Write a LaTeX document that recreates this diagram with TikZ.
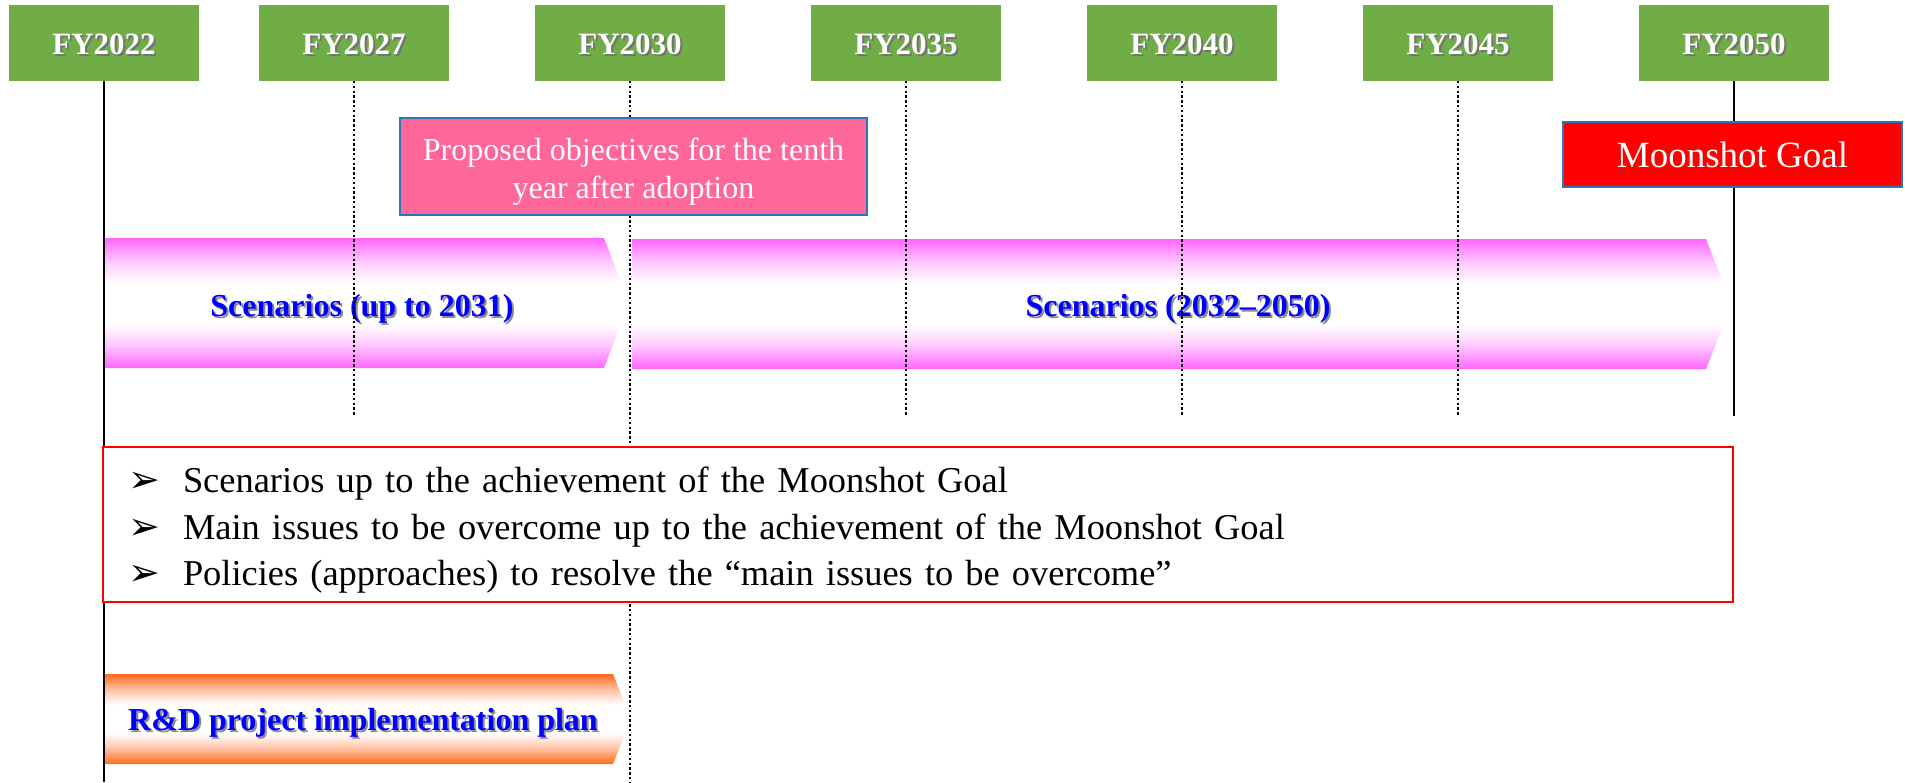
\documentclass[tikz,border=0pt]{standalone}
\usepackage{fontspec}
\setmainfont{Liberation Serif}
\newfontfamily\dingfont{DejaVu Sans}
\usetikzlibrary{positioning}

\definecolor{yeargreen}{HTML}{70AD47}
\definecolor{notepink}{HTML}{FF6699}
\definecolor{edgeblue}{HTML}{2E75B6}
\definecolor{scenmag}{HTML}{FF66FF}
\definecolor{scenlight}{HTML}{FFC8FF}
\definecolor{planorange}{HTML}{FF6A1C}
\definecolor{planlight}{HTML}{FFC4A8}
\definecolor{textblue}{HTML}{0000FF}

\pgfdeclareverticalshading{scenfill}{100bp}{color(0bp)=(scenmag); color(25bp)=(scenmag); color(34bp)=(scenlight); color(42bp)=(white); color(58bp)=(white); color(66bp)=(scenlight); color(75bp)=(scenmag); color(100bp)=(scenmag)}
\pgfdeclareverticalshading{planfill}{100bp}{color(0bp)=(planorange); color(25bp)=(planorange); color(34bp)=(planlight); color(42bp)=(white); color(58bp)=(white); color(66bp)=(planlight); color(75bp)=(planorange); color(100bp)=(planorange)}

\newcommand{\shadowed}[2]{\makebox[0pt][l]{\hspace{1pt}\raisebox{-1pt}{\textcolor{#1}{#2}}}#2}
\newcommand{\itemmark}{\makebox[27.5pt][l]{\dingfont\fontsize{19}{19}\selectfont ➢}}

\begin{document}
\begin{tikzpicture}[x=0.5pt,y=-0.5pt,node distance=43pt,
  yearbox/.style={fill=yeargreen,minimum width=95pt,minimum height=38pt,inner sep=0pt,outer sep=0pt,text height=12.5pt,text=white,font=\fontsize{15.5}{18}\selectfont\bfseries},
  bandtext/.style={text=textblue,inner sep=0pt,font=\fontsize{16}{19}\selectfont\bfseries},
  solidline/.style={draw=black,line width=1.3pt},
  dotline/.style={draw=black,line width=1.3pt,dash pattern=on 1.2pt off 1.2pt},
  notebox/.style={fill=notepink,draw=edgeblue,line width=1pt,minimum width=233.5pt,minimum height=48.5pt,align=center,text=white,font=\fontsize{16}{19}\selectfont},
  goalbox/.style={fill=red,draw=edgeblue,line width=1pt,minimum width=169.5pt,minimum height=32.5pt,text=white,font=\fontsize{18.5}{22}\selectfont},
  itembox/.style={fill=white,draw=red,line width=1pt,minimum height=77.5pt,text width=790pt,inner xsep=12.5pt,align=left,font=\fontsize{18.2}{23.3}\selectfont}]
  \useasboundingbox (0,0) rectangle (1905,782);
  \node[yearbox] (fy22) at (104,43) {\shadowed{black!55}{FY2022}};
  \node[yearbox,right=30pt of fy22] (fy27) {\shadowed{black!55}{FY2027}};
  \node[yearbox,right=of fy27] (fy30) {\shadowed{black!55}{FY2030}};
  \node[yearbox,right=of fy30] (fy35) {\shadowed{black!55}{FY2035}};
  \node[yearbox,right=of fy35] (fy40) {\shadowed{black!55}{FY2040}};
  \node[yearbox,right=of fy40] (fy45) {\shadowed{black!55}{FY2045}};
  \node[yearbox,right=of fy45] (fy50) {\shadowed{black!55}{FY2050}};
  \coordinate (lowend) at (0,782);
  \coordinate (midend) at (0,416);
  % scenario bands and plan band
  \shade[shading=scenfill] (103,238) -- (604,238) -- (629,303) -- (604,368) -- (103,368) -- cycle;
  \shade[shading=scenfill] (632,239) -- (1706,239) -- (1732,304) -- (1706,369) -- (632,369) -- cycle;
  \shade[shading=planfill] (103,674) -- (613,674) -- (631,719) -- (613,764) -- (103,764) -- cycle;
  \node[bandtext] (scen1) at (362,310) {\shadowed{black!45}{Scenarios (up to 2031)}};
  \node[bandtext] (scen2) at (1178,310) {\shadowed{black!45}{Scenarios (2032–2050)}};
  \node[bandtext] (plan) at (363,724) {\shadowed{black!45}{R\&D project implementation plan}};
  % year lines
  \draw[solidline] (fy22.south) -- (fy22.south |- lowend);
  \draw[dotline] (fy27.south) -- (fy27.south |- midend);
  \draw[dotline] (fy30.south) -- (fy30.south |- lowend);
  \draw[dotline] (fy35.south) -- (fy35.south |- midend);
  \draw[dotline] (fy40.south) -- (fy40.south |- midend);
  \draw[dotline] (fy45.south) -- (fy45.south |- midend);
  \draw[solidline] (fy50.south) -- (fy50.south |- midend);
  \node[notebox] (tenth) at (633.5,166.5) {\rule{0pt}{16pt}Proposed objectives for the tenth\\year after adoption};
  \node[goalbox] (goal) at (1732.5,154.5) {Moonshot Goal};
  \node[itembox] (issues) at (918,524.5) {\rule{0pt}{18.5pt}\itemmark Scenarios up to the achievement of the Moonshot Goal\\
    \itemmark Main issues to be overcome up to the achievement of the Moonshot Goal\\
    \itemmark Policies (approaches) to resolve the “main issues to be overcome”};
\end{tikzpicture}
\end{document}
